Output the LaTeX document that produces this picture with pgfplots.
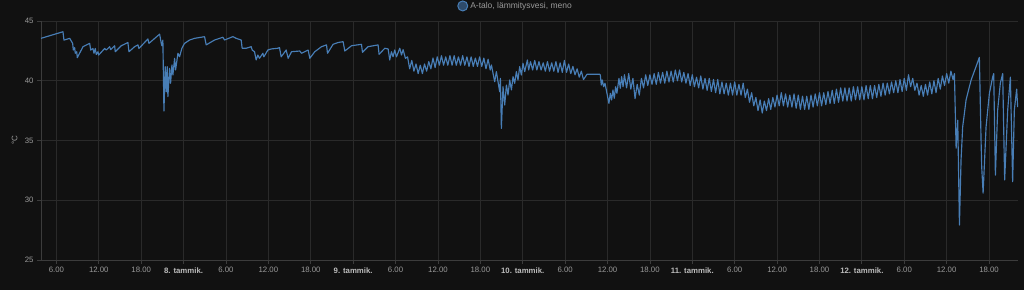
\documentclass[border=0pt]{standalone}
\usepackage{fontspec}
\setmainfont{Liberation Sans}
\usepackage{pgfplots}
\usepackage{pgfplotstable}
\pgfplotsset{compat=1.18}
\definecolor{bg}{HTML}{111111}
\definecolor{gridc}{HTML}{2A2A2A}
\definecolor{axc}{HTML}{3C3C3C}
\definecolor{tickc}{HTML}{9A9A9A}
\definecolor{dayc}{HTML}{BDBDBD}
\definecolor{linec}{RGB}{72,126,182}
\definecolor{legfill}{HTML}{2E4B6B}

\pgfplotstableread{
h v
3.82 43.55
6.93 44.1
7.07 43.4
7.88 43.55
8.30 43.13
8.39 42.57
8.58 42.77
8.67 42.3
8.87 42.43
8.96 41.93
9.76 42.85
10.71 43.13
10.85 42.57
11.17 42.7
11.32 42.3
11.5 42.7
11.64 42.2
11.88 42.43
11.98 42.15
12.83 42.7
13.06 42.57
13.54 42.85
13.68 42.6
14.24 42.93
14.33 42.43
15.18 42.93
16.12 43.2
16.27 42.43
17.07 42.85
17.54 43.0
17.68 42.7
18.95 43.5
19.1 43.13
20.61 43.9
20.84 43.13
20.93 42.93
21.07 43.4
21.22 37.47
21.4 41.18
21.54 39.08
21.68 41.18
21.78 38.67
22.02 41.04
22.16 39.79
22.35 41.32
22.49 40.48
22.73 41.88
22.87 40.9
23.2 42.3
23.43 42.01
23.76 42.72
24.14 43.13
24.85 43.41
25.56 43.55
26.97 43.69
27.2 43.0
28.39 43.41
29.56 43.64
29.8 43.41
30.98 43.69
31.44 43.55
32.15 43.41
32.29 42.72
32.86 42.72
33.57 42.85
33.71 42.57
34.04 42.43
34.27 41.74
34.51 42.15
34.75 41.88
35.22 42.3
35.36 42.0
35.93 42.57
36.4 42.66
37.34 42.72
37.58 42.77
37.81 42.0
38.52 42.57
38.8 41.88
39.28 42.43
40.45 42.49
40.69 42.3
41.63 42.57
41.87 41.88
42.57 42.43
43.52 42.85
44.23 43.0
44.37 42.3
45.16 43.05
45.87 43.2
46.58 43.27
46.82 42.49
47.77 42.93
49.18 43.05
49.32 42.38
50.11 42.85
51.53 43.0
51.67 42.21
52.48 42.72
52.95 42.66
53.18 41.74
53.42 42.43
53.65 42.01
53.89 42.57
54.13 42.0
54.6 42.72
54.84 42.15
55.07 42.6
55.4 41.88
55.7 42.0
56.0 41.0
56.3 41.7
56.6 40.8
56.9 41.4
57.2 40.6
57.5 41.3
57.8 40.6
58.1 41.4
58.4 40.8
58.7 41.6
59.0 41.0
59.3 41.9
59.6 41.1
59.9 42.0
60.2 41.3
60.5 42.1
60.8 41.3
61.1 42.0
61.4 41.3
61.7 42.1
62.0 41.3
62.3 42.1
62.6 41.3
62.9 42.0
63.2 41.3
63.5 42.1
63.8 41.3
64.1 42.0
64.4 41.2
64.7 42.0
65.0 41.2
65.3 41.9
65.6 41.2
65.9 42.0
66.2 41.2
66.5 41.9
66.8 41.0
67.1 41.8
67.4 40.9
67.57 41.32
68.03 39.92
68.27 40.76
68.74 39.08
68.84 40.2
68.98 36.02
69.21 39.5
69.45 37.97
69.69 39.64
69.92 38.81
70.16 40.06
70.4 39.23
70.63 40.34
70.86 39.79
71.1 40.76
71.33 40.06
71.57 41.18
71.81 40.48
72.04 41.46
72.28 40.76
72.66 41.74
72.84 40.9
73.1 41.6
73.4 40.9
73.7 41.7
74.0 40.9
74.3 41.6
74.6 40.9
74.9 41.5
75.2 40.8
75.5 41.6
75.8 40.8
76.1 41.5
76.4 40.8
76.7 41.6
77.0 40.7
77.3 41.5
77.6 40.7
77.9 41.7
78.2 40.7
78.5 41.4
78.8 40.6
79.1 41.2
79.4 40.5
79.7 41.0
80.0 40.3
80.3 40.8
80.6 40.1
81.1 40.54
82.9 40.54
82.98 40.48
83.12 39.64
83.26 40.06
83.45 39.5
83.64 39.79
83.83 39.23
84.06 38.53
84.2 38.11
84.4 38.95
84.58 38.39
84.77 39.23
84.96 38.53
85.15 39.5
85.33 38.95
85.62 40.2
85.81 39.37
86.0 40.34
86.2 39.5
86.4 40.5
86.7 39.4
87.0 40.6
87.3 39.3
87.6 40.2
87.9 38.5
88.2 39.7
88.5 38.8
88.8 40.2
89.1 39.4
89.4 40.5
89.7 39.6
90.0 40.5
90.3 39.7
90.6 40.6
90.9 39.7
91.2 40.7
91.5 39.8
91.8 40.7
92.1 39.8
92.4 40.8
92.7 39.9
93.0 40.8
93.3 39.9
93.6 40.9
93.9 40.0
94.2 40.9
94.5 39.9
94.8 40.7
95.1 39.8
95.4 40.6
95.7 39.6
96.0 40.5
96.3 39.5
96.6 40.3
96.9 39.4
97.2 40.4
97.5 39.3
97.8 40.2
98.1 39.2
98.4 40.2
98.7 39.1
99.0 40.1
99.3 39.0
99.6 40.1
99.9 38.9
100.2 39.9
100.5 38.9
100.8 39.8
101.1 38.8
101.4 39.8
101.7 38.8
102.0 39.9
102.3 38.8
102.6 39.7
102.9 38.8
103.2 39.8
103.5 38.6
103.8 39.3
104.1 38.2
104.4 39.0
104.7 37.9
105.0 38.6
105.3 37.5
105.6 38.4
105.9 37.3
106.2 38.3
106.5 37.5
106.8 38.5
107.1 37.6
107.4 38.6
107.7 37.8
108.0 38.8
108.3 37.9
108.6 39.0
108.9 37.9
109.2 38.9
109.5 37.8
109.8 38.8
110.1 37.8
110.4 38.9
110.7 37.7
111.0 38.8
111.3 37.6
111.6 38.7
111.9 37.6
112.2 38.7
112.5 37.6
112.8 38.8
113.1 37.8
113.4 38.9
113.7 37.9
114.0 39.0
114.3 37.9
114.6 39.0
114.9 38.0
115.2 39.1
115.5 38.1
115.8 39.2
116.1 38.1
116.4 39.3
116.7 38.2
117.0 39.4
117.3 38.3
117.6 39.4
117.9 38.3
118.2 39.4
118.5 38.3
118.8 39.5
119.1 38.4
119.4 39.5
119.7 38.4
120.0 39.5
120.3 38.4
120.6 39.6
120.9 38.5
121.2 39.6
121.5 38.5
121.8 39.6
122.1 38.6
122.4 39.7
122.7 38.7
123.0 39.8
123.3 38.8
123.6 39.8
123.9 38.9
124.2 39.9
124.5 39.0
124.8 40.0
125.1 39.0
125.4 40.1
125.7 39.1
126.0 40.2
126.3 39.2
126.6 40.5
126.9 39.5
127.2 40.2
127.5 39.2
127.8 39.8
128.1 38.8
128.4 39.6
128.7 38.7
129.0 39.7
129.3 38.8
129.6 39.9
129.9 38.9
130.2 40.0
130.5 39.0
130.8 40.2
131.1 39.3
131.4 40.4
131.7 39.6
132.0 40.6
132.3 39.8
132.6 40.8
132.9 40.1
133.1 40.6
133.34 34.35
133.57 36.7
133.81 27.93
134.04 33.4
134.27 36.15
134.75 38.4
135.46 40.06
136.17 41.2
136.63 41.96
136.87 35.04
136.96 32.8
137.16 30.6
137.58 36.15
138.05 38.95
138.51 40.3
138.66 40.6
138.9 32.1
139.22 37.55
139.6 39.8
139.93 40.6
140.21 31.7
140.64 37.55
141.02 40.3
141.34 31.55
141.58 37.55
141.91 39.3
142.05 37.8
}\data

\begin{document}
\begin{tikzpicture}[x=1pt,y=1pt]
\fill[bg] (0,0) rectangle (1024,290);
\useasboundingbox (0,0) rectangle (1024,290);
\begin{axis}[
  at={(41pt,30pt)}, anchor=south west,
  width=977pt, height=239pt, scale only axis,
  xmin=3.82, xmax=142.1, ymin=25, ymax=45,
  ytick={25,30,35,40,45},
  xtick={6,12,...,138},
  xticklabels={6.00,12.00,18.00,\textcolor{dayc}{\textbf{8. tammik.}},6.00,12.00,18.00,\textcolor{dayc}{\textbf{9. tammik.}},6.00,12.00,18.00,\textcolor{dayc}{\textbf{10. tammik.}},6.00,12.00,18.00,\textcolor{dayc}{\textbf{11. tammik.}},6.00,12.00,18.00,\textcolor{dayc}{\textbf{12. tammik.}},6.00,12.00,18.00},
  axis x line*=bottom, axis y line*=left,
  axis line style={axc, line width=0.8pt, -},
  grid=major, major grid style={gridc, line width=0.8pt},
  tick style={axc, line width=0.8pt},
  major tick length=4pt, tick align=outside,
  ticklabel style={font=\fontsize{7.8}{9}\selectfont, text=tickc},
  /pgf/number format/assume math mode=true,
  ylabel={°C},
  ylabel style={at={(axis description cs:-0.027,0.5)}, anchor=center, font=\fontsize{8}{9}\selectfont, text=tickc},
  legend style={at={(axis description cs:0.4857,1.063)}, anchor=center, draw=none, fill=none, text=tickc, font=\fontsize{8.5}{10}\selectfont, inner sep=0pt},
  legend image code/.code={\draw[linec, fill=legfill, line width=1pt] (0pt,0pt) circle (5pt);},
  clip=false,
]
\addplot[linec, line width=1.15pt, line join=round] table[x=h, y=v] {\data};
\addlegendentry{A-talo, lämmitysvesi, meno}
\end{axis}
\end{tikzpicture}
\end{document}
